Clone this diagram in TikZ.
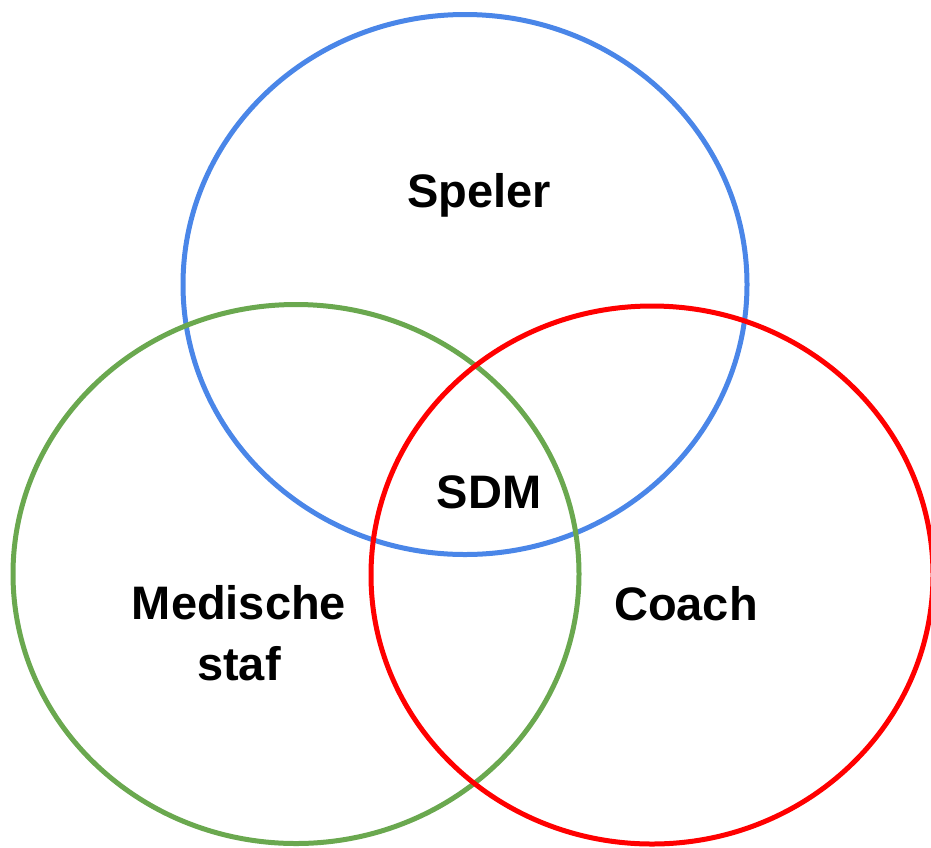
\documentclass[tikz,border=0pt]{standalone}
\usepackage{fontspec}
\setmainfont{Liberation Sans}
\definecolor{spelerblue}{RGB}{74,134,232}
\definecolor{stafgreen}{RGB}{106,168,79}
\definecolor{coachred}{RGB}{255,0,0}
\tikzset{
	venn/.style={line width=2.5pt},
	lbl/.style={font=\fontsize{23.5}{30.5}\selectfont\bfseries, align=center, anchor=base, inner sep=0pt}
}
\begin{document}
\begin{tikzpicture}[x=0.5pt,y=-0.5pt]
		\useasboundingbox (0,0) rectangle (931,847);
		% CIRCLES
		\draw[venn, spelerblue] (465,284.5) ellipse [x radius=282, y radius=270];
		\draw[venn, stafgreen] (296,574) ellipse [x radius=283, y radius=269.5];
		\draw[venn, coachred] (652,575) ellipse [x radius=281, y radius=269];
		
		% LABELS
		\node (speler) [lbl] at (479,207) {Speler};
		\node (sdm) [lbl] at (489,508) {SDM};
		\node (coach) [lbl] at (686,620) {Coach};
		\node (staf) [lbl] at (239,680) {Medische\\staf};
	\end{tikzpicture}
\end{document}
